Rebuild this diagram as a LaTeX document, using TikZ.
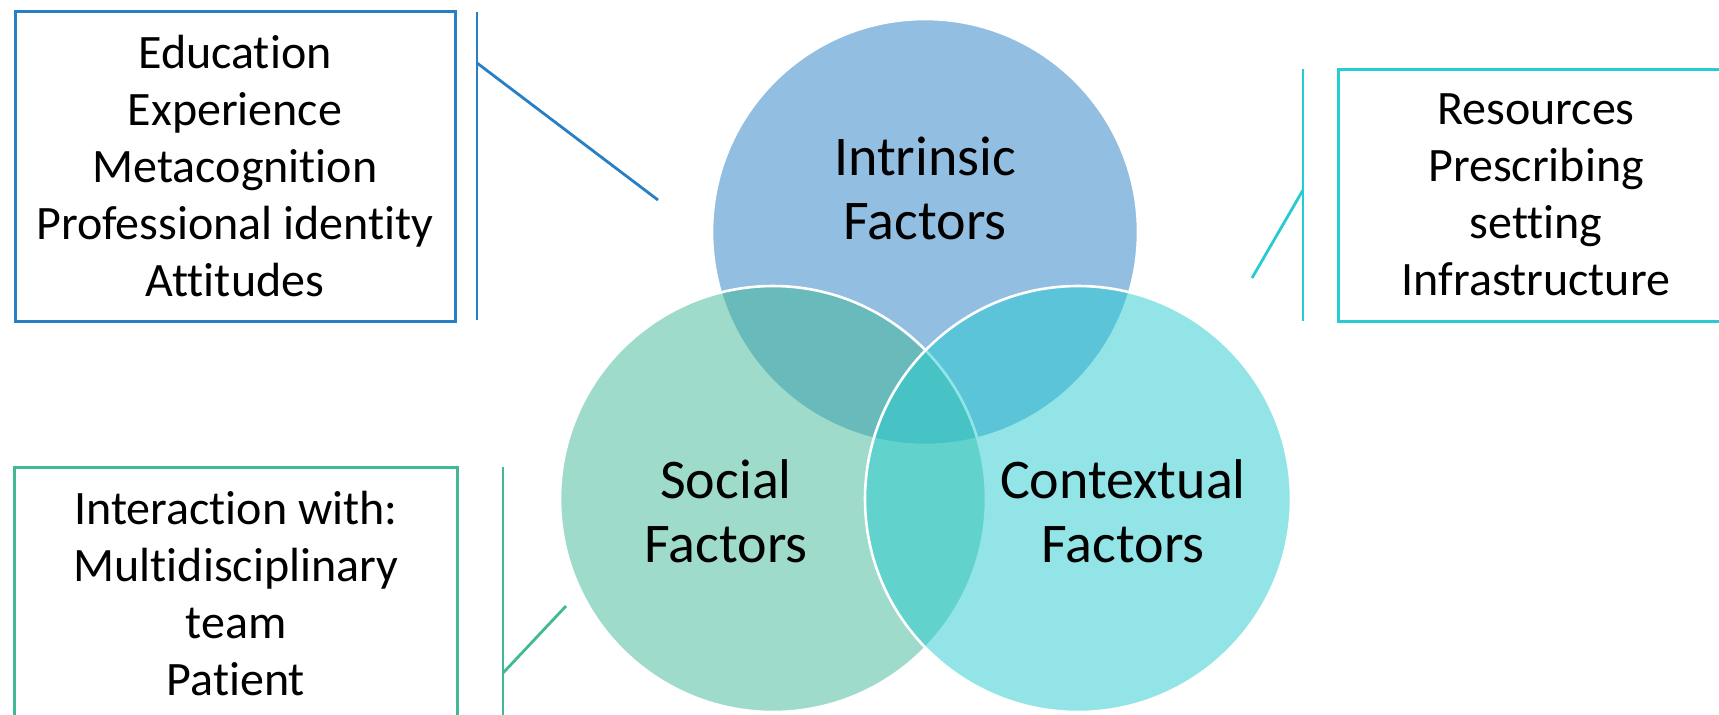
\documentclass[tikz,border=0pt]{standalone}
\usepackage{fontspec}
\setmainfont{Carlito}[RawFeature={-liga;-dlig}]
\definecolor{cblue}{RGB}{39,127,197}
\definecolor{cgreen}{RGB}{65,185,151}
\definecolor{ccyan}{RGB}{39,203,209}
\begin{document}
\begin{tikzpicture}[x=0.5pt,y=-0.5pt,
  venn/.style={circle, minimum size=213pt, inner sep=0pt, draw=white, line width=1.3pt, fill opacity=0.5},
  vlabel/.style={align=center, font=\fontsize{28pt}{32pt}\selectfont, text=black, inner sep=0pt},
  infobox/.style={draw, line width=1.5pt, align=center, inner sep=0pt, font=\fontsize{24pt}{28.5pt}\selectfont, text=black},
  bracket/.style={line width=1.4pt}]
\path[use as bounding box, clip] (0,0) rectangle (1719,714);
\fill[white] (0,0) rectangle (1719,714);
% circles
\node[venn, fill=cblue] (intr) at (925,232) {};
\node[venn, fill=cgreen] (soc) at (773,499) {};
\node[venn, fill=ccyan] (ctx) at (1078,499) {};
% circle labels
\node[vlabel] (lintr) at (925,188) {Intrinsic\\Factors};
\node[vlabel] (lsoc) at (726,511) {Social\\Factors};
\node[vlabel] (lctx) at (1123,511) {Contextual\\Factors};
% boxes
\node[infobox, draw=cblue, minimum width=220pt, minimum height=155pt] (bintr) at (235,166)
  {Education\\Experience\\Metacognition\\Professional identity\\Attitudes};
\node[infobox, draw=ccyan, minimum width=198pt, minimum height=126pt] (bctx) at (1536,195)
  {Resources\\Prescribing\\setting\\Infrastructure};
\node[infobox, draw=cgreen, minimum width=221.75pt, minimum height=126pt] (bsoc) at (236,593)
  {Interaction with:\\Multidisciplinary\\team\\Patient};
% brackets
\coordinate (bt1) at (477,12);
\coordinate (bb1) at (477,320);
\coordinate (bj1) at (477,63);
\coordinate (be1) at (658,200);
\draw[bracket, cblue] (bt1) -- (bb1);
\draw[bracket, cblue] (bj1) -- (be1);
\coordinate (bt2) at (1303,69);
\coordinate (bb2) at (1303,321);
\coordinate (bj2) at (1303,190);
\coordinate (be2) at (1252,278);
\draw[bracket, ccyan] (bt2) -- (bb2);
\draw[bracket, ccyan] (bj2) -- (be2);
\coordinate (bt3) at (503,467);
\coordinate (bb3) at (503,730);
\coordinate (bj3) at (503,673);
\coordinate (be3) at (566,606);
\draw[bracket, cgreen] (bt3) -- (bb3);
\draw[bracket, cgreen] (bj3) -- (be3);
\end{tikzpicture}
\end{document}
